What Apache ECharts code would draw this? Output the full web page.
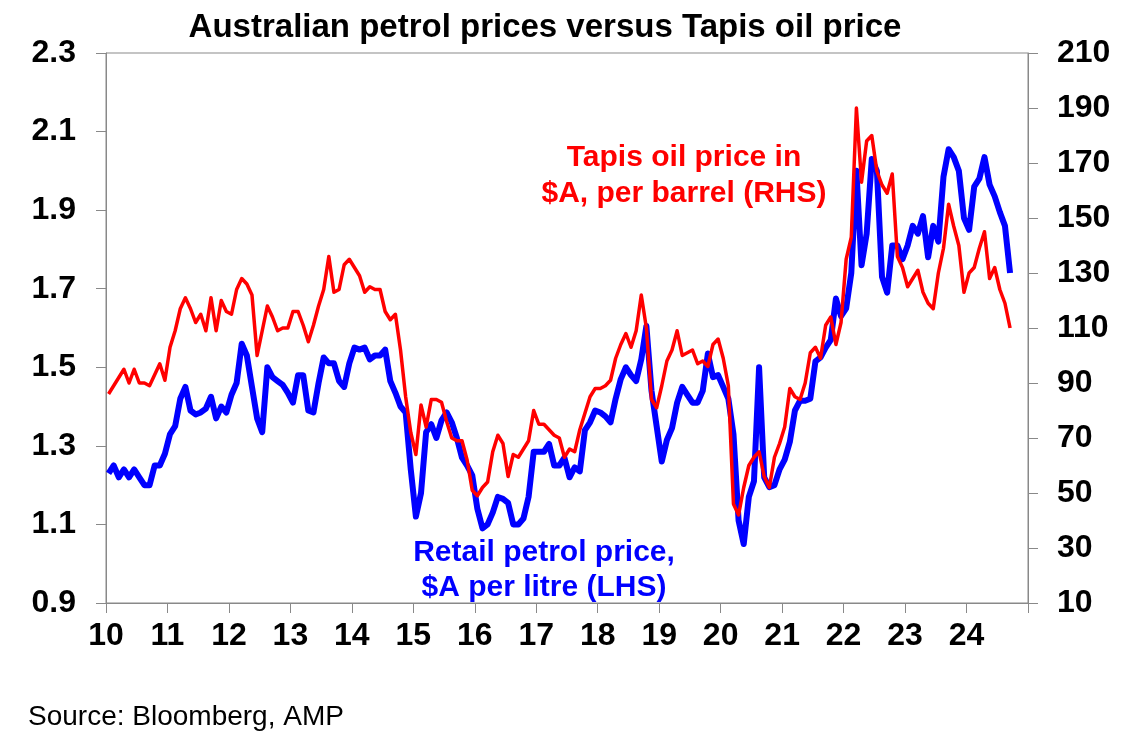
<!DOCTYPE html>
<html>
<head>
<meta charset="utf-8">
<title>Australian petrol prices versus Tapis oil price</title>
<script src="https://cdn.jsdelivr.net/npm/echarts@6/dist/echarts.min.js"></script>
<style>
    html, body { margin: 0; padding: 0; background: #fff; }
    #chart { width: 1141px; height: 741px; }
</style>
</head>
<body>
<div id="chart"></div>
<script>
// monthly observations, Jan 2010 .. Sep 2024
var firstYear = 2010;
var monthCount = 177;
var months = [];
for (var i = 0; i < monthCount; i++) {
    months.push((firstYear + Math.floor(i / 12)) + '-' + ('0' + (i % 12 + 1)).slice(-2));
}

// retail petrol price, $A per litre (LHS)
var petrolPrice = [
    1.23, 1.25, 1.22, 1.24, 1.22, 1.24, 1.22, 1.20, 1.20, 1.25, 1.25, 1.28,
    1.33, 1.35, 1.42, 1.45, 1.39, 1.38, 1.385, 1.395, 1.425, 1.37, 1.40, 1.385,
    1.43, 1.46, 1.56, 1.53, 1.45, 1.37, 1.335, 1.50, 1.475, 1.465, 1.455, 1.435,
    1.41, 1.48, 1.48, 1.39, 1.385, 1.46, 1.525, 1.51, 1.51, 1.465, 1.45, 1.51,
    1.55, 1.545, 1.55, 1.52, 1.53, 1.53, 1.545, 1.465, 1.435, 1.40, 1.385, 1.24,
    1.12, 1.18, 1.335, 1.355, 1.32, 1.365, 1.385, 1.36, 1.32, 1.27, 1.25, 1.225,
    1.14, 1.09, 1.10, 1.13, 1.17, 1.165, 1.155, 1.10, 1.10, 1.115, 1.17, 1.285,
    1.285, 1.285, 1.305, 1.25, 1.25, 1.27, 1.22, 1.245, 1.235, 1.34, 1.36, 1.39,
    1.385, 1.375, 1.36, 1.42, 1.47, 1.50, 1.48, 1.465, 1.52, 1.605, 1.44, 1.35,
    1.26, 1.315, 1.345, 1.41, 1.45, 1.43, 1.41, 1.41, 1.44, 1.535, 1.475, 1.48,
    1.45, 1.42, 1.33, 1.11, 1.05, 1.17, 1.21, 1.50, 1.22, 1.195, 1.20, 1.24,
    1.265, 1.31, 1.39, 1.415, 1.415, 1.42, 1.515, 1.525, 1.55, 1.57, 1.675, 1.63,
    1.65, 1.74, 2.00, 1.76, 1.84, 2.03, 2.00, 1.73, 1.69, 1.81, 1.81, 1.775,
    1.81, 1.86, 1.84, 1.885, 1.78, 1.86, 1.82, 1.985, 2.055, 2.035, 2.00, 1.88,
    1.85, 1.96, 1.98, 2.035, 1.965, 1.935, 1.895, 1.86, 1.74
];

// Tapis oil price in $A, per barrel (RHS)
var tapisPrice = [
    86, 89, 92, 95, 90, 95, 90, 90, 89, 93, 97, 91,
    103, 109, 117, 121, 117, 112, 115, 109, 121, 109, 120, 116,
    115, 124, 128, 126, 122, 100, 109, 118, 114, 109, 110, 110,
    116, 116, 111, 105, 111, 118, 124, 136, 123, 124, 133, 135,
    132, 129, 123, 125, 124, 124, 116, 113, 115, 102, 85, 72,
    64, 82, 74, 84, 84, 83, 76, 70, 69, 69, 62, 51,
    49, 52, 54, 65, 71, 68, 56, 64, 63, 66, 69, 80,
    75, 75, 73, 71, 70, 63, 66, 65, 73, 79, 85, 88,
    88, 89, 91, 99, 104, 108, 103, 109, 122, 110, 84, 81,
    89, 98, 102, 109, 100, 101, 102, 97, 98, 96, 104, 106,
    99, 89, 46, 42, 52, 60, 63, 65, 56, 52, 63, 68,
    74, 88, 85, 84, 90, 101, 103, 99, 111, 114, 104, 112,
    135, 143, 190, 163, 178, 180, 167, 162, 159, 166, 136, 132,
    125, 128, 131, 123, 119, 117, 130, 139, 155, 147, 140, 123,
    130, 132, 139, 145, 128, 132, 124, 119, 110
];

var yearLabels = ['10', '11', '12', '13', '14', '15', '16', '17', '18', '19', '20', '21', '22', '23', '24'];
var leftTicks = [0.9, 1.1, 1.3, 1.5, 1.7, 1.9, 2.1, 2.3];
var rightTicks = [10, 30, 50, 70, 90, 110, 130, 150, 170, 190, 210];

// mid-month position as a decimal year
function monthToYear(label) {
    var p = label.split('-');
    return +p[0] + (+p[1] - 0.5) / 12;
}

function pairs(values) {
    return values.map(function (v, i) { return [monthToYear(months[i]), v]; });
}

var font = 'Liberation Sans, Arial, Helvetica, sans-serif';
var axisGrey = '#898989';

var chart = echarts.init(document.getElementById('chart'), null, {renderer: 'canvas'});

var labelStyle = {
    fontSize: 32,
    fontWeight: 'bold',
    color: '#000',
    fontFamily: font
};

var option = {
    animation: false,
    backgroundColor: '#fff',
    grid: {
        left: 106, right: 113, top: 53, bottom: 138,
        show: true,
        borderColor: axisGrey,
        borderWidth: 1,
        outerBoundsMode: 'none'
    },
    xAxis: {
        type: 'value',
        min: firstYear,
        max: firstYear + yearLabels.length,
        interval: 1,
        splitLine: {show: false},
        axisLine: {show: true, lineStyle: {color: axisGrey, width: 1}},
        axisTick: {show: true, length: 10, lineStyle: {color: axisGrey}},
        axisLabel: Object.assign({
            margin: 17,
            formatter: function (v) {
                return yearLabels[Math.round(v) - firstYear] || '';
            }
        }, labelStyle)
    },
    yAxis: [{
        type: 'value',
        position: 'left',
        min: leftTicks[0],
        max: leftTicks[leftTicks.length - 1],
        interval: 0.2,
        splitLine: {show: false},
        axisLine: {show: true, lineStyle: {color: axisGrey, width: 1}},
        axisTick: {show: true, length: 10, lineStyle: {color: axisGrey}},
        axisLabel: Object.assign({
            margin: 30,
            formatter: function (v) { return v.toFixed(1); }
        }, labelStyle)
    }, {
        type: 'value',
        position: 'right',
        min: rightTicks[0],
        max: rightTicks[rightTicks.length - 1],
        interval: 20,
        splitLine: {show: false},
        axisLine: {show: true, lineStyle: {color: axisGrey, width: 1}},
        axisTick: {show: true, length: 10, lineStyle: {color: axisGrey}},
        axisLabel: Object.assign({margin: 29}, labelStyle)
    }],
    series: [{
        name: 'Retail petrol price',
        type: 'line',
        yAxisIndex: 0,
        data: pairs(petrolPrice),
        showSymbol: false,
        symbol: 'none',
        lineStyle: {color: '#0000ff', width: 6, join: 'round'},
        z: 2
    }, {
        name: 'Tapis oil price',
        type: 'line',
        yAxisIndex: 1,
        data: pairs(tapisPrice),
        showSymbol: false,
        symbol: 'none',
        lineStyle: {color: '#ff0000', width: 3.5, join: 'round'},
        z: 3
    }],
    graphic: [{
        type: 'text',
        x: 545, y: 28,
        style: {
            text: 'Australian petrol prices versus Tapis oil price',
            font: 'bold 33px ' + font,
            fill: '#000',
            align: 'center',
            verticalAlign: 'middle'
        }
    }, {
        type: 'text',
        x: 684, y: 176,
        style: {
            text: 'Tapis oil price in\n$A, per barrel (RHS)',
            font: 'bold 30px ' + font,
            lineHeight: 36,
            fill: '#ff0000',
            align: 'center',
            verticalAlign: 'middle'
        }
    }, {
        type: 'text',
        x: 544, y: 570,
        style: {
            text: 'Retail petrol price,\n$A per litre (LHS)',
            font: 'bold 30px ' + font,
            lineHeight: 35,
            fill: '#0000ff',
            align: 'center',
            verticalAlign: 'middle'
        }
    }, {
        type: 'text',
        x: 28, y: 717,
        style: {
            text: 'Source: Bloomberg, AMP',
            font: '28px ' + font,
            fill: '#000',
            align: 'left',
            verticalAlign: 'middle'
        }
    }]
};

chart.setOption(option);
</script>
</body>
</html>
